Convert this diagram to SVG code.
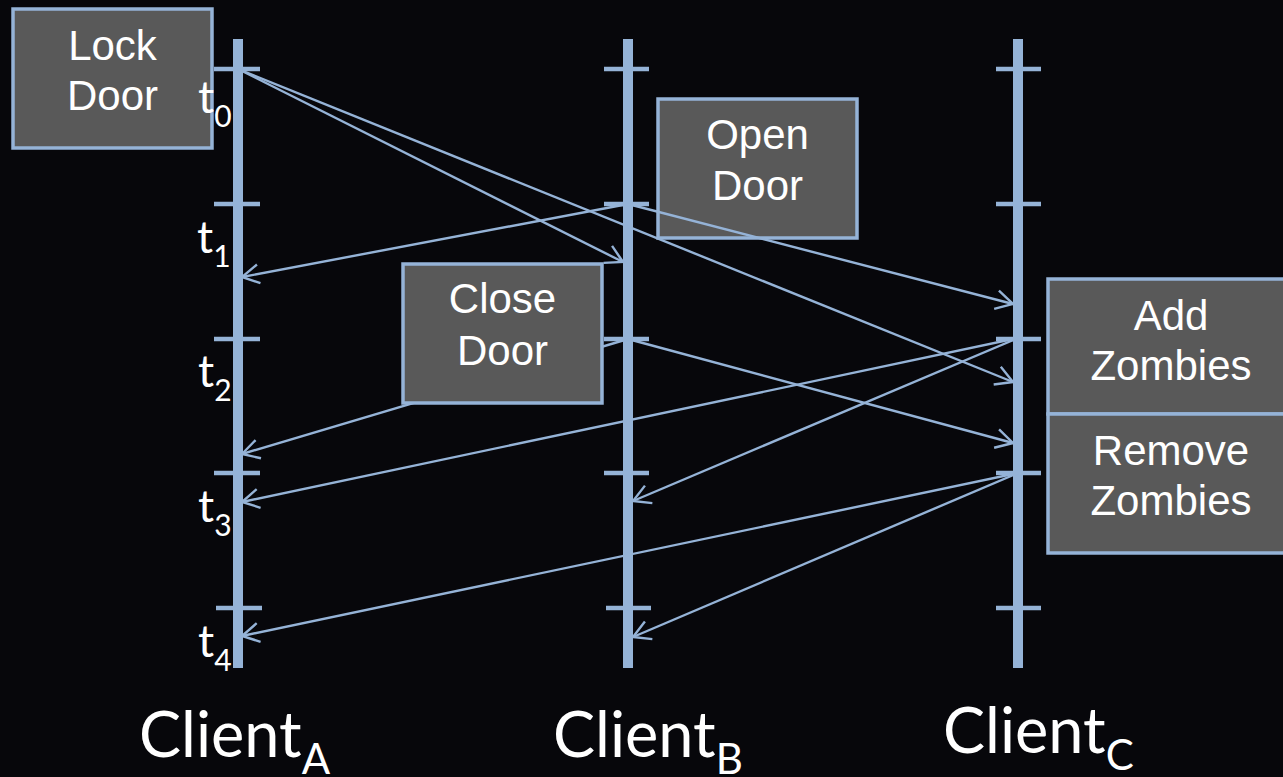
<svg xmlns="http://www.w3.org/2000/svg" width="1283" height="777" viewBox="0 0 1283 777">
  <defs>
    <style>
      .axis { stroke: #95b3d7; stroke-width: 10; fill: none; }
      .tick { stroke: #95b3d7; stroke-width: 4.5; fill: none; }
      .msg { stroke: #95b3d7; stroke-width: 2.4; fill: none; marker-end: url(#head); }
      .box { fill: #595959; stroke: #95b3d7; stroke-width: 3.5; }
      .boxtxt { font-family: "Liberation Sans", Arial, sans-serif; font-size: 42px; fill: #ffffff; text-anchor: middle; }
      .tlbl { font-family: Lato, "Open Sans", sans-serif; font-size: 45px; fill: #ffffff; }
      .tsub { font-size: 30px; }
      .client { font-family: Lato, "Open Sans", sans-serif; font-size: 63px; fill: #ffffff; }
      .csub { font-size: 42px; }
    </style>
    <marker id="head" markerUnits="userSpaceOnUse" viewBox="-22 -13 26 26" refX="0" refY="0" markerWidth="26" markerHeight="26" orient="auto">
      <path d="M -17 -9.5 L 0 0 L -17 9.5" fill="none" stroke="#95b3d7" stroke-width="2.4"/>
    </marker>
  </defs>

  <rect x="0" y="0" width="1283" height="777" fill="#07070b"/>

  <!-- timelines with tick marks -->
  <g id="timeline-a">
    <line class="axis" x1="238" y1="39" x2="238" y2="668"/>
    <line class="tick" x1="214" y1="69" x2="260" y2="69"/>
    <line class="tick" x1="214" y1="204" x2="260" y2="204"/>
    <line class="tick" x1="214" y1="339" x2="260" y2="339"/>
    <line class="tick" x1="214" y1="473" x2="260" y2="473"/>
    <line class="tick" x1="216" y1="608" x2="262" y2="608"/>
  </g>
  <g id="timeline-b">
    <line class="axis" x1="628" y1="39" x2="628" y2="668"/>
    <line class="tick" x1="604" y1="69" x2="649" y2="69"/>
    <line class="tick" x1="604" y1="204" x2="649" y2="204"/>
    <line class="tick" x1="604" y1="339" x2="649" y2="339"/>
    <line class="tick" x1="604" y1="473" x2="649" y2="473"/>
    <line class="tick" x1="606" y1="608" x2="651" y2="608"/>
  </g>
  <g id="timeline-c">
    <line class="axis" x1="1018" y1="39" x2="1018" y2="668"/>
    <line class="tick" x1="996" y1="69" x2="1041" y2="69"/>
    <line class="tick" x1="996" y1="204" x2="1041" y2="204"/>
    <line class="tick" x1="996" y1="339" x2="1041" y2="339"/>
    <line class="tick" x1="996" y1="473" x2="1041" y2="473"/>
    <line class="tick" x1="996" y1="608" x2="1041" y2="608"/>
  </g>

  <g id="open-door">
    <rect class="box" x="658" y="99" width="199" height="139"/>
    <text class="boxtxt" x="757.5" y="149">Open</text>
    <text class="boxtxt" x="757.5" y="200">Door</text>
  </g>

  <!-- messages between clients -->
  <g id="connectors">
    <line class="msg" x1="238" y1="69" x2="623" y2="262"/>
    <line class="msg" x1="238" y1="69" x2="1013" y2="382"/>
    <line class="msg" x1="628" y1="204" x2="242" y2="277"/>
    <line class="msg" x1="628" y1="204" x2="1013" y2="304"/>
    <line class="msg" x1="628" y1="339" x2="1013" y2="443"/>
    <line class="msg" x1="628" y1="339" x2="242" y2="454"/>
    <line class="msg" x1="1018" y1="338" x2="242" y2="502"/>
    <line class="msg" x1="1018" y1="338" x2="633" y2="501"/>
    <line class="msg" x1="1018" y1="473" x2="242" y2="636"/>
    <line class="msg" x1="1018" y1="473" x2="633" y2="637"/>
  </g>

  <g id="close-door">
    <rect class="box" x="403" y="264" width="199" height="139"/>
    <text class="boxtxt" x="502.5" y="313">Close</text>
    <text class="boxtxt" x="502.5" y="365">Door</text>
  </g>

  <g id="lock-door">
    <rect class="box" x="13" y="9" width="199" height="139"/>
    <text class="boxtxt" x="112.5" y="60">Lock</text>
    <text class="boxtxt" x="112.5" y="110">Door</text>
  </g>

  <g id="add-zombies">
    <rect class="box" x="1048" y="279" width="246" height="135"/>
    <text class="boxtxt" x="1171" y="330">Add</text>
    <text class="boxtxt" x="1171" y="380">Zombies</text>
  </g>

  <g id="remove-zombies">
    <rect class="box" x="1048" y="414" width="246" height="139"/>
    <text class="boxtxt" x="1171" y="465">Remove</text>
    <text class="boxtxt" x="1171" y="515">Zombies</text>
  </g>

  <!-- time labels -->
  <g id="time-labels">
    <text class="tlbl" x="198" y="113">t<tspan class="tsub" dy="14">0</tspan></text>
    <text class="tlbl" x="197" y="253">t<tspan class="tsub" dy="14">1</tspan></text>
    <text class="tlbl" x="198" y="387">t<tspan class="tsub" dy="14">2</tspan></text>
    <text class="tlbl" x="198" y="522">t<tspan class="tsub" dy="14">3</tspan></text>
    <text class="tlbl" x="198" y="657">t<tspan class="tsub" dy="14">4</tspan></text>
  </g>

  <!-- client names -->
  <g id="client-labels">
    <text class="client" x="139" y="757">Client<tspan class="csub" dy="17">A</tspan></text>
    <text class="client" x="553" y="757">Client<tspan class="csub" dy="17">B</tspan></text>
    <text class="client" x="943" y="753">Client<tspan class="csub" dy="17">C</tspan></text>
  </g>
</svg>
